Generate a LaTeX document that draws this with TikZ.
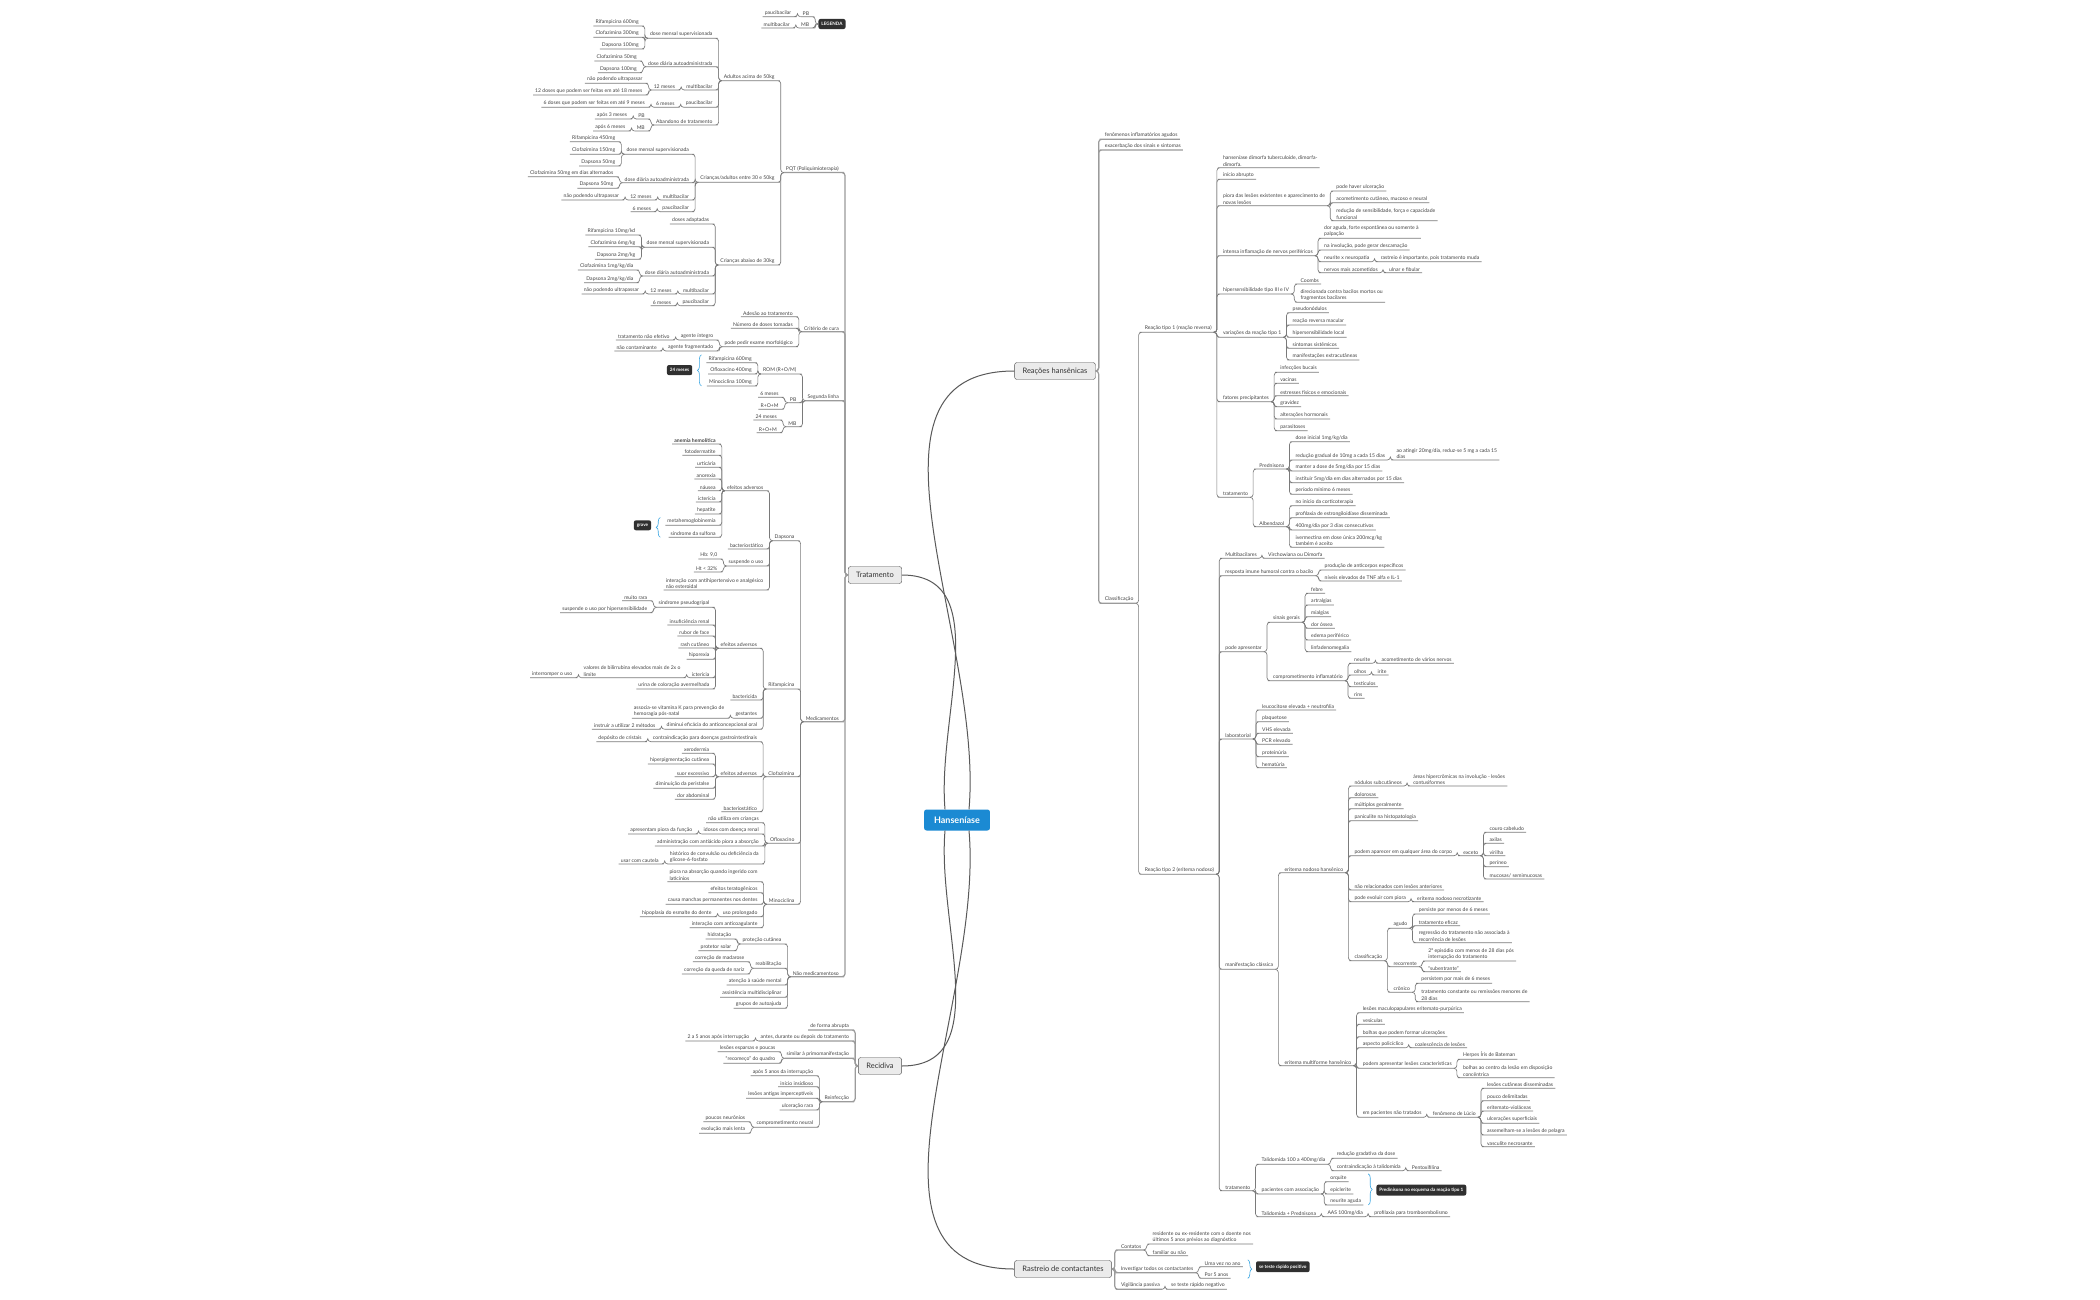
\documentclass[tikz,border=0pt]{standalone}
\usepackage{fontspec}
\setmainfont{Lato}
\usetikzlibrary{decorations.pathreplacing}
\definecolor{mmtext}{HTML}{444444}
\definecolor{mmline}{HTML}{7A7A7A}
\definecolor{mmblue}{HTML}{1B8AD3}
\definecolor{mmbrace}{HTML}{3BA7E3}
\definecolor{mmdark}{HTML}{303030}

% topic to the right of its parent: [line], name, parent, y, text
\newcommand\rnd[5][]{%
  \path (#3-r) ++(7,0) coordinate (tmp);
  \node[topic, anchor=south west] (#2) at (tmp |- 0,#4) {#5};
  \coordinate (#2-r) at (#2.south east);
  \draw[link, #1] (#3-r) -- ++(3,0) |- (#2.south west) -- (#2.south east);}
% topic to the left of its parent
\newcommand\lnd[5][]{%
  \path (#3-l) ++(-7,0) coordinate (tmp);
  \node[topic, anchor=south east] (#2) at (tmp |- 0,#4) {#5};
  \coordinate (#2-l) at (#2.south west);
  \draw[link, #1] (#3-l) -- ++(-3,0) |- (#2.south east) -- (#2.south west);}

\begin{document}
\begin{tikzpicture}[x=1pt, y=-1pt,
  topic/.style={font=\fontsize{5.1}{6.2}\selectfont, text=mmtext, inner xsep=2pt, inner ysep=1.4pt, align=left},
  link/.style={draw=mmline, line width=0.65pt, rounded corners=3pt},
  trunk/.style={line width=1.2pt, draw=mmline!75},
  branch/.style={draw=mmdark!85, fill=black!8, rounded corners=2.5pt, font=\fontsize{7.5}{9}\selectfont, text=black!80, inner xsep=8pt, minimum height=17pt},
  root/.style={fill=mmblue, rounded corners=2.5pt, text=white, font=\bfseries\fontsize{9}{11}\selectfont, inner xsep=10pt, minimum height=21pt},
  darklbl/.style={fill=mmdark, rounded corners=2pt, text=white, font=\bfseries\fontsize{4.6}{5.5}\selectfont, inner xsep=3pt, minimum height=9pt},
  sumb/.style={draw=mmbrace, line width=0.6pt, decorate, decoration={brace, amplitude=4pt}},
  curve/.style={draw=black!65, line width=1pt}]
\fill[white] (0,0) rectangle (2100,1300);
\useasboundingbox (0,0) rectangle (2100,1300);

% main topics
\node[root] (hans) at (957,820) {Hanseníase};
\node[branch] (trat) at (875,575) {Tratamento};
\node[branch] (reci) at (880,1066) {Recidiva};
\node[branch] (reac) at (1055,371) {Reações hansênicas};
\node[branch] (rast) at (1063,1269) {Rastreio de contactantes};
\coordinate (trat-l) at (trat.west);
\coordinate (reci-l) at (reci.west);
\coordinate (reac-r) at (reac.east);
\coordinate (rast-r) at (rast.east);
\draw[curve] ([xshift=-12]hans.north) to[out=95,in=0] (trat.east);
\draw[curve] ([xshift=-12]hans.south) to[out=-95,in=0] (reci.east);
\draw[curve] ([xshift=12]hans.north) to[out=85,in=180] (reac.west);
\draw[curve] ([xshift=12]hans.south) to[out=-85,in=180] (rast.west);

% legend
\node[darklbl] (leg) at (832,24) {LEGENDA};
\coordinate (leg-l) at (leg.west);
\lnd{lpb}{leg}{16.7}{PB}
\lnd{lpb1}{lpb}{16.7}{paucibacilar}
\lnd{lmb}{leg}{28}{MB}
\lnd{lmb1}{lmb}{28}{multibacilar}

% Tratamento
\lnd[trunk]{pqt}{trat}{172.6}{PQT (Poliquimioterapia)}
\lnd{ad}{pqt}{80.7}{Adultos acima de 50kg}
\lnd{adm}{ad}{38.3}{dose mensal supervisionada}
\lnd{adm1}{adm}{26}{Rifampicina 600mg}
\lnd{adm2}{adm}{37.3}{Clofazimina 300mg}
\lnd{adm3}{adm}{49}{Dapsona 100mg}
\lnd{add}{ad}{66.7}{dose diária autoadministrada}
\lnd{add1}{add}{61}{Clofazimina 50mg}
\lnd{add2}{add}{72.7}{Dapsona 100mg}
\lnd{admb}{ad}{90}{multibacilar}
\lnd{adm12}{admb}{90}{12 meses}
\lnd{adm12a}{adm12}{83.3}{não podendo ultrapassar}
\lnd{adm12b}{adm12}{95}{12 doses que podem ser feitas em até 18 meses}
\lnd{adpb}{ad}{107.3}{paucibacilar}
\lnd{adpb6}{adpb}{107.3}{6 meses}
\lnd{adpb6a}{adpb6}{107.3}{6 doses que podem ser feitas em até 9 meses}
\lnd{adab}{ad}{125}{Abandono de tratamento}
\lnd{adabp}{adab}{119}{PB}
\lnd{adabp1}{adabp}{119}{após 3 meses}
\lnd{adabm}{adab}{131}{MB}
\lnd{adabm1}{adabm}{131}{após 6 meses}
\lnd{cr}{pqt}{182.3}{Crianças/adultos entre 30 e 50kg}
\lnd{crm}{cr}{154.3}{dose mensal supervisionada}
\lnd{crm1}{crm}{141.7}{Rifampicina 450mg}
\lnd{crm2}{crm}{154.3}{Clofazimina 150mg}
\lnd{crm3}{crm}{166}{Dapsona 50mg}
\lnd{crd}{cr}{182.7}{dose diária autoadministrada}
\lnd{crd1}{crd}{176.7}{Clofazimina 50mg em dias alternados}
\lnd{crd2}{crd}{188.3}{Dapsona 50mg}
\lnd{crmb}{cr}{200}{multibacilar}
\lnd{crmb1}{crmb}{200}{12 meses}
\lnd{crmb2}{crmb1}{200}{não podendo ultrapassar}
\lnd{crpb}{cr}{211.7}{paucibacilar}
\lnd{crpb1}{crpb}{211.7}{6 meses}
\lnd{ck}{pqt}{265}{Crianças abaixo de 30kg}
\lnd{ckad}{ck}{224}{doses adaptadas}
\lnd{ckm}{ck}{247.3}{dose mensal supervisionada}
\lnd{ckm1}{ckm}{235}{Rifampicina 10mg/kd}
\lnd{ckm2}{ckm}{246.7}{Clofazimina 6mg/kg}
\lnd{ckm3}{ckm}{259.3}{Dapsona 2mg/kg}
\lnd{ckd}{ck}{276}{dose diária autoadministrada}
\lnd{ckd1}{ckd}{270}{Clofazimina 1mg/kg/dia}
\lnd{ckd2}{ckd}{282.7}{Dapsona 2mg/kg/dia}
\lnd{ckmb}{ck}{294}{multibacilar}
\lnd{ckmb1}{ckmb}{294}{12 meses}
\lnd{ckmb2}{ckmb1}{294}{não podendo ultrapassar}
\lnd{ckpb}{ck}{305.7}{paucibacilar}
\lnd{ckpb1}{ckpb}{305.7}{6 meses}

\lnd[trunk]{cc}{trat}{331.7}{Critério de cura}
\lnd{cc1}{cc}{316.7}{Adesão ao tratamento}
\lnd{cc2}{cc}{328.3}{Número de doses tomadas}
\lnd{cc3}{cc}{346.7}{pode pedir exame morfológico}
\lnd{cc3a}{cc3}{340}{agente íntegro}
\lnd{cc3a1}{cc3a}{340}{tratamento não efetivo}
\lnd{cc3b}{cc3}{351}{agente fragmentado}
\lnd{cc3b1}{cc3b}{351}{não contaminante}

\lnd[trunk]{sl}{trat}{400.7}{Segunda linha}
\lnd{rom}{sl}{374}{ROM (R+O/M)}
\lnd{rom1}{rom}{362.7}{Rifampicina 600mg}
\lnd{rom2}{rom}{374}{Ofloxacino 400mg}
\lnd{rom3}{rom}{386}{Minociclina 100mg}
\lnd{slpb}{sl}{402.7}{PB}
\lnd{slpb1}{slpb}{397.3}{6 meses}
\lnd{slpb2}{slpb}{409.3}{R+O+M}
\lnd{slmb}{sl}{426.7}{MB}
\lnd{slmb1}{slmb}{420}{24 meses}
\lnd{slmb2}{slmb}{432.7}{R+O+M}
\draw[sumb] ([xshift=-5]rom1.west |- rom3.south) -- ([xshift=-5]rom1.west |- rom1.north);
\node[darklbl, anchor=east] (lb24) at ([xshift=-14]rom1.west |- rom2.center) {24 meses};

\lnd[trunk]{med}{trat}{721.7}{Medicamentos}
\lnd{dap}{med}{540.7}{Dapsona}
\lnd{dapef}{dap}{490.7}{efeitos adversos}
\lnd{dape1}{dapef}{444}{\textbf{anemia hemolítica}}
\lnd{dape2}{dapef}{455.3}{fotodermatite}
\lnd{dape3}{dapef}{467.3}{urticária}
\lnd{dape4}{dapef}{479}{anorexia}
\lnd{dape5}{dapef}{490.7}{náusea}
\lnd{dape6}{dapef}{502}{icterícia}
\lnd{dape7}{dapef}{514}{hepatite}
\lnd{dape8}{dapef}{525.3}{metahemoglobinemia}
\lnd{dape9}{dapef}{537.3}{síndrome da sulfona}
\draw[sumb] ([xshift=-5]dape8.west |- dape9.south) -- ([xshift=-5]dape8.west |- dape8.north);
\node[darklbl, anchor=east] (lbsx) at ([xshift=-14]dape8.west |- dape8.south) {grave};
\lnd{dapbs}{dap}{549}{bacteriostático}
\lnd{dapsu}{dap}{566}{suspende o uso}
\lnd{dapsu1}{dapsu}{559}{Hb: 9,0}
\lnd{dapsu2}{dapsu}{572}{Ht < 32\%}
\lnd{dapin}{dap}{590}{interação com antihipertensivo e analgésico\\não esteroidal}
\lnd{rif}{med}{689}{Rifampicina}
\lnd{rifef}{rif}{648.3}{efeitos adversos}
\lnd{rife1}{rifef}{607.3}{síndrome pseudogripal}
\lnd{rife1a}{rife1}{600.7}{muito rara}
\lnd{rife1b}{rife1}{612.7}{suspende o uso por hipersensibilidade}
\lnd{rife2}{rifef}{625}{insuficiência renal}
\lnd{rife3}{rifef}{636}{rubor de face}
\lnd{rife4}{rifef}{648}{rash cutâneo}
\lnd{rife5}{rifef}{659.3}{hiporexia}
\lnd{rife6}{rifef}{677.7}{icterícia}
\lnd{rife6a}{rife6}{677.7}{valores de bilirrubina elevados mais de 2x o\\limite}
\lnd{rife6b}{rife6a}{677.7}{interromper o uso}
\lnd{rife7}{rifef}{689}{urina de coloração avermelhada}
\lnd{rifbc}{rif}{700}{bactericida}
\lnd{rifge}{rif}{718.3}{gestantes}
\lnd{rifge1}{rifge}{718.3}{associa-se vitamina K para prevenção de\\hemoragia pós-natal}
\lnd{rifac}{rif}{729.3}{diminui eficácia do anticoncepcional oral}
\lnd{rifac1}{rifac}{729.3}{instruir a utilizar 2 métodos}
\lnd{clo}{med}{776.7}{Clofazimina}
\lnd{clo1}{clo}{741.7}{contraindicação para doenças gastrointestinais}
\lnd{clo1a}{clo1}{741.7}{depósito de cristais}
\lnd{cloef}{clo}{776.7}{efeitos adversos}
\lnd{cloe1}{cloef}{753.3}{xerodermia}
\lnd{cloe2}{cloef}{764}{hiperpigmentação cutânea}
\lnd{cloe3}{cloef}{776.7}{suor excessivo}
\lnd{cloe4}{cloef}{788.3}{diminuição da peristalse}
\lnd{cloe5}{cloef}{799.3}{dor abdominal}
\lnd{clobs}{clo}{811.7}{bacteriostático}
\lnd{ofl}{med}{843.3}{Ofloxacino}
\lnd{ofl1}{ofl}{822.7}{não utiliza em crianças}
\lnd{ofl2}{ofl}{834}{idosos com doença renal}
\lnd{ofl2a}{ofl2}{834}{apresentam piora da função}
\lnd{ofl3}{ofl}{846}{administração com antiácido piora a absorção}
\lnd{ofl4}{ofl}{864}{histórico de convulsão ou deficiência da\\glicose-6-fosfato}
\lnd{ofl4a}{ofl4}{864}{usar com cautela}
\lnd{min}{med}{904.3}{Minociclina}
\lnd{min1}{min}{881.7}{piora na absorção quando ingerido com\\laticínios}
\lnd{min2}{min}{892.7}{efeitos teratogênicos}
\lnd{min3}{min}{904.3}{causa manchas permanentes nos dentes}
\lnd{min4}{min}{916.7}{uso prolongado}
\lnd{min4a}{min4}{916.7}{hipoplasia do esmalte do dente}
\lnd{min5}{min}{927.7}{interação com anticoagulante}

\lnd[trunk]{nm}{trat}{976.7}{Não medicamentoso}
\lnd{nm1}{nm}{944}{proteção cutânea}
\lnd{nm1a}{nm1}{939}{hidratação}
\lnd{nm1b}{nm1}{950.7}{protetor solar}
\lnd{nm2}{nm}{968.3}{reabilitação}
\lnd{nm2a}{nm2}{961.7}{correção de madarose}
\lnd{nm2b}{nm2}{974}{correção da queda de nariz}
\lnd{nm3}{nm}{985}{atenção à saúde mental}
\lnd{nm4}{nm}{997.3}{assistência multidisciplinar}
\lnd{nm5}{nm}{1008.3}{grupos de autoajuda}

% Recidiva
\lnd[trunk]{re1}{reci}{1030}{de forma abrupta}
\lnd[trunk]{re2}{reci}{1041}{antes, durante ou depois do tratamento}
\lnd{re2a}{re2}{1041}{2 a 5 anos após interrupção}
\lnd[trunk]{re3}{reci}{1058.3}{similar à primomanifestação}
\lnd{re3a}{re3}{1051.7}{lesões esparsas e poucas}
\lnd{re3b}{re3}{1063.3}{``recomeço'' do quadro}
\lnd[trunk]{rein}{reci}{1101.7}{Reinfecção}
\lnd{rein1}{rein}{1075.7}{após 5 anos da interrupção}
\lnd{rein2}{rein}{1086.7}{início insidioso}
\lnd{rein3}{rein}{1098.3}{lesões antigas imperceptíveis}
\lnd{rein4}{rein}{1110}{ulceração rara}
\lnd{rein5}{rein}{1127.3}{comprometimento neural}
\lnd{rein5a}{rein5}{1121.7}{poucos neurônios}
\lnd{rein5b}{rein5}{1133.3}{evolução mais lenta}

% Reações hansênicas
\rnd[trunk]{rh1}{reac}{139.3}{fenômenos inflamatórios agudos}
\rnd[trunk]{rh2}{reac}{150}{exacerbação dos sinais e sintomas}
\rnd[trunk]{cla}{reac}{603.3}{Classificação}
\rnd{t1}{cla}{332.3}{Reação tipo 1 (reação reversa)}
\rnd{t1a}{t1}{167.7}{hanseníase dimorfa tuberculoide, dimorfa-\\dimorfa.}
\rnd{t1b}{t1}{179.3}{início abrupto}
\rnd{t1c}{t1}{205.7}{piora das lesões existentes e aparecimento de\\novas lesões}
\rnd{t1c1}{t1c}{191}{pode haver ulceração}
\rnd{t1c2}{t1c}{202.7}{acometimento cutâneo, mucoso e neural}
\rnd{t1c3}{t1c}{220.7}{redução de sensibilidade, força e capacidade\\funcional}
\rnd{t1d}{t1}{255.7}{intensa inflamação de nervos periféricos}
\rnd{t1d1}{t1d}{238.3}{dor aguda, forte espontânea ou somente à\\palpação}
\rnd{t1d2}{t1d}{250}{na involução, pode gerar descamação}
\rnd{t1d3}{t1d}{261.7}{neurite x neuropatia}
\rnd{t1d3a}{t1d3}{261.7}{rastreio é importante, pois tratamento muda}
\rnd{t1d4}{t1d}{272.7}{nervos mais acometidos}
\rnd{t1d4a}{t1d4}{272.7}{ulnar e fibular}
\rnd{t1e}{t1}{294}{hipersensibilidade tipo III e IV}
\rnd{t1e1}{t1e}{284}{Coombs}
\rnd{t1e2}{t1e}{302.3}{direcionada contra bacilos mortos ou\\fragmentos bacilares}
\rnd{t1f}{t1}{337.3}{variações da reação tipo 1}
\rnd{t1f1}{t1f}{312.7}{pseudonódulos}
\rnd{t1f2}{t1f}{325}{reação reversa macular}
\rnd{t1f3}{t1f}{337.3}{hipersensibilidade local}
\rnd{t1f4}{t1f}{348.3}{sintomas sistêmicos}
\rnd{t1f5}{t1f}{360}{manifestações extracutâneas}
\rnd{t1g}{t1}{401.7}{fatores precipitantes}
\rnd{t1g1}{t1g}{372.3}{infecções bucais}
\rnd{t1g2}{t1g}{383.3}{vacinas}
\rnd{t1g3}{t1g}{395.7}{estresses físicos e emocionais}
\rnd{t1g4}{t1g}{406.7}{gravidez}
\rnd{t1g5}{t1g}{419}{alterações hormonais}
\rnd{t1g6}{t1g}{430.7}{parasitoses}
\rnd{t1h}{t1}{497.3}{tratamento}
\rnd{pred}{t1h}{469}{Prednisona}
\rnd{pred1}{pred}{441.7}{dose inicial 1mg/kg/dia}
\rnd{pred2}{pred}{460}{redução gradual de 10mg a cada 15 dias}
\rnd{pred2a}{pred2}{460}{ao atingir 20mg/dia, reduz-se 5 mg a cada 15\\dias}
\rnd{pred3}{pred}{471}{manter a dose de 5mg/dia por 15 dias}
\rnd{pred4}{pred}{482.7}{instituir 5mg/dia em dias alternados por 15 dias}
\rnd{pred5}{pred}{494.3}{período mínimo 6 meses}
\rnd{alb}{t1h}{526.7}{Albendazol}
\rnd{alb1}{alb}{505.7}{no início da corticoterapia}
\rnd{alb2}{alb}{517.7}{profilaxia de estrongiloidíase disseminada}
\rnd{alb3}{alb}{530}{400mg/dia por 3 dias consecutivos}
\rnd{alb4}{alb}{547.3}{ivermectina em dose única 200mcg/kg\\também é aceito}
\rnd{t2}{cla}{874.3}{Reação tipo 2 (eritema nodoso)}
\rnd{t2a}{t2}{558.3}{Multibacilares}
\rnd{t2a1}{t2a}{558.3}{Virchowiana ou Dimorfa}
\rnd{t2b}{t2}{575.7}{resposta imune humoral contra o bacilo}
\rnd{t2b1}{t2b}{570}{produção de anticorpos específicos}
\rnd{t2b2}{t2b}{581}{níveis elevados de TNF alfa e IL-1}
\rnd{t2c}{t2}{651.7}{pode apresentar}
\rnd{sg}{t2c}{622.3}{sinais gerais}
\rnd{sg1}{sg}{593.3}{febre}
\rnd{sg2}{sg}{605}{artralgias}
\rnd{sg3}{sg}{616.7}{mialgias}
\rnd{sg4}{sg}{628.3}{dor óssea}
\rnd{sg5}{sg}{640}{edema periférico}
\rnd{sg6}{sg}{651.7}{linfadenomegalia}
\rnd{ci}{t2c}{680.7}{comprometimento inflamatório}
\rnd{ci1}{ci}{663.3}{neurite}
\rnd{ci1a}{ci1}{663.3}{acometimento de vários nervos}
\rnd{ci2}{ci}{675}{olhos}
\rnd{ci2a}{ci2}{675}{irite}
\rnd{ci3}{ci}{686.7}{testículos}
\rnd{ci4}{ci}{698.3}{rins}
\rnd{lab}{t2}{739}{laboratorial}
\rnd{lab1}{lab}{710}{leucocitose elevada + neutrofilia}
\rnd{lab2}{lab}{721.7}{plaquetose}
\rnd{lab3}{lab}{733.3}{VHS elevada}
\rnd{lab4}{lab}{744.3}{PCR elevado}
\rnd{lab5}{lab}{756.7}{proteinúria}
\rnd{lab6}{lab}{767.7}{hematúria}
\rnd{mc}{t2}{969.3}{manifestação clássica}
\rnd{enh}{mc}{872.7}{eritema nodoso hansênico}
\rnd{enh1}{enh}{786}{nódulos subcutâneos}
\rnd{enh1a}{enh1}{786}{áreas hipercrômicas na involução - lesões\\contusiformes}
\rnd{enh2}{enh}{797.7}{dolorosas}
\rnd{enh3}{enh}{808.7}{múltiplos geralmente}
\rnd{enh4}{enh}{820.7}{paniculite na histopatologia}
\rnd{enh5}{enh}{855.7}{podem aparecer em qualquer área do corpo}
\rnd{exc}{enh5}{855.7}{exceto}
\rnd{exc1}{exc}{832.3}{couro cabeludo}
\rnd{exc2}{exc}{843.3}{axilas}
\rnd{exc3}{exc}{855.7}{virilha}
\rnd{exc4}{exc}{866.7}{períneo}
\rnd{exc5}{exc}{879}{mucosas/ semimucosas}
\rnd{enh6}{enh}{890}{não relacionados com lesões anteriores}
\rnd{enh7}{enh}{901.7}{pode evoluir com piora}
\rnd{enh7a}{enh7}{901.7}{eritema nodoso necrotizante}
\rnd{ecl}{enh}{960.7}{classificação}
\rnd{agu}{ecl}{928.3}{agudo}
\rnd{agu1}{agu}{914}{persiste por menos de 6 meses}
\rnd{agu2}{agu}{925.7}{tratamento eficaz}
\rnd{agu3}{agu}{942.7}{regressão do tratamento não associada à\\recorrência de lesões}
\rnd{rec}{ecl}{966.7}{recorrente}
\rnd{rec1}{rec}{961}{2º episódio com menos de 28 dias pós\\interrupção do tratamento}
\rnd{rec2}{rec}{971.7}{``subentrante''}
\rnd{cro}{ecl}{992.3}{crônico}
\rnd{cro1}{cro}{983.3}{persistem por mais de 6 meses}
\rnd{cro2}{cro}{1001.7}{tratamento constante ou remissões menores de\\28 dias}
\rnd{emh}{mc}{1065.7}{eritema multiforme hansênico}
\rnd{emh1}{emh}{1012.7}{lesões maculopapulares eritemato-purpúrica}
\rnd{emh2}{emh}{1024.3}{vesículas}
\rnd{emh3}{emh}{1036.7}{bolhas que podem formar ulcerações}
\rnd{emh4}{emh}{1047.7}{aspecto policíclico}
\rnd{emh4a}{emh4}{1047.7}{coalescência de lesões}
\rnd{emh5}{emh}{1068.3}{podem apresentar lesões características}
\rnd{emh5a}{emh5}{1059.3}{Herpes Íris de Bateman}
\rnd{emh5b}{emh5}{1077.7}{bolhas ao centro da lesão em disposição\\concêntrica}
\rnd{emh6}{emh}{1117.3}{em pacientes não tratados}
\rnd{luc}{emh6}{1117.3}{fenômeno de Lúcio}
\rnd{luc1}{luc}{1088.3}{lesões cutâneas disseminadas}
\rnd{luc2}{luc}{1100.7}{pouco delimitadas}
\rnd{luc3}{luc}{1111}{eritemato-violáceas}
\rnd{luc4}{luc}{1123.3}{ulcerações superficiais}
\rnd{luc5}{luc}{1135}{assemelham-se a lesões de pelagra}
\rnd{luc6}{luc}{1146.7}{vasculite necrosante}
\rnd{t2t}{t2}{1190.7}{tratamento}
\rnd{tal}{t2t}{1164.3}{Talidomida 100 a 400mg/dia}
\rnd{tal1}{tal}{1158.3}{redução gradativa da dose}
\rnd{tal2}{tal}{1170.7}{contraindicação à talidomida}
\rnd{tal2a}{tal2}{1170.7}{Pentoxifilina}
\rnd{pca}{t2t}{1194}{pacientes com associação}
\rnd{pca1}{pca}{1181.7}{orquite}
\rnd{pca2}{pca}{1194}{epiclerite}
\rnd{pca3}{pca}{1205}{neurite aguda}
\draw[sumb] ([xshift=5]pca3.east |- pca1.north) -- ([xshift=5]pca3.east |- pca3.south);
\node[darklbl, anchor=west] (lbpr) at ([xshift=13]pca3.east |- pca2.center) {Predinisona no esquema da reação tipo 1};
\rnd{tp}{t2t}{1216.7}{Talidomida + Prednisona}
\rnd{tp1}{tp}{1216.7}{AAS 100mg/dia}
\rnd{tp2}{tp1}{1216.7}{profilaxia para tromboembolismo}

% Rastreio de contactantes
\rnd[trunk]{ct}{rast}{1250}{Contatos}
\rnd{ct1}{ct}{1244}{residente ou ex-residente com o doente nos\\últimos 5 anos prévios ao diagnóstico}
\rnd{ct2}{ct}{1255.7}{familiar ou não}
\rnd[trunk]{inv}{rast}{1272.7}{Investigar todos os contactantes}
\rnd{inv1}{inv}{1266.7}{Uma vez no ano}
\rnd{inv2}{inv}{1278.3}{Por 5 anos}
\draw[sumb] ([xshift=5]inv1.east |- inv1.north) -- ([xshift=5]inv1.east |- inv2.south);
\node[darklbl, anchor=west] (lbtr) at ([xshift=13]inv1.east |- inv1.south) {se teste rápido positivo};
\rnd[trunk]{vp}{rast}{1289.3}{Vigilância passiva}
\rnd{vp1}{vp}{1289.3}{se teste rápido negativo}
\end{tikzpicture}
\end{document}
